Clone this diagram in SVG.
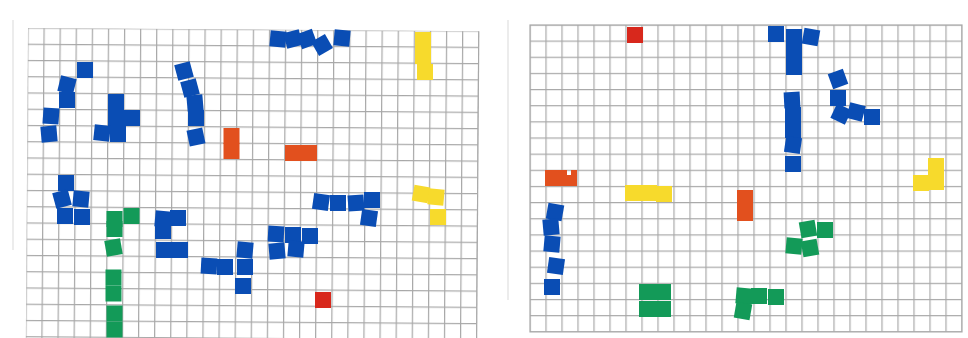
<svg xmlns="http://www.w3.org/2000/svg" xmlns:xlink="http://www.w3.org/1999/xlink" width="968" height="338" viewBox="0 0 968 338">
  <style>
    .b { fill: #0a4db4; }
    .g { fill: #139a58; }
    .y { fill: #f7da2c; }
    .o { fill: #e2501e; }
    .r { fill: #d8281c; }
    .edge { stroke: #ececec; stroke-width: 2; fill: none; }
    .frame { fill: none; stroke: #a8a8a8; stroke-width: 1.2; }
  </style>
  <defs>
    <pattern id="gl" patternUnits="userSpaceOnUse" x="27.4" y="27.4" width="16.1" height="16.25">
      <path d="M0 0.6H16.1M0.6 0V16.25" stroke="#a8a8a8" stroke-width="1.2" fill="none"/>
    </pattern>
    <pattern id="gr" patternUnits="userSpaceOnUse" x="529.4" y="24.4" width="16" height="16.15">
      <path d="M0 0.6H16M0.6 0V16.15" stroke="#a8a8a8" stroke-width="1.2" fill="none"/>
    </pattern>
    <rect id="t" x="-8" y="-8" width="16" height="16"/>
  </defs>
  <rect width="968" height="338" fill="#ffffff"/>
  <path class="edge" d="M13 20V250M508 20V300"/>

  <g id="left-grid" transform="rotate(0.4 28 28)">
    <rect x="28" y="28" width="450.8" height="310" fill="url(#gl)"/>
    <path class="frame" d="M478.8 28V338"/>
  </g>
  <g id="right-grid">
    <rect x="530" y="25" width="432" height="306.9" fill="url(#gr)"/>
    <rect class="frame" x="530" y="25" width="432" height="306.9"/>
  </g>

  <g id="left-tiles">
    <!-- blue arc top-left -->
    <use href="#t" class="b" transform="translate(85 70)"/>
    <use href="#t" class="b" transform="translate(67 85) rotate(14)"/>
    <use href="#t" class="b" transform="translate(67 100)"/>
    <use href="#t" class="b" transform="translate(51 116) rotate(4)"/>
    <use href="#t" class="b" transform="translate(49 134) rotate(-5)"/>
    <!-- blue cross -->
    <use href="#t" class="b" transform="translate(116 102)"/>
    <use href="#t" class="b" transform="translate(116 118)"/>
    <use href="#t" class="b" transform="translate(132 118)"/>
    <use href="#t" class="b" transform="translate(102 133) rotate(6)"/>
    <use href="#t" class="b" transform="translate(118 134)"/>
    <!-- blue vertical arc -->
    <use href="#t" class="b" transform="translate(184 71) rotate(-15)"/>
    <use href="#t" class="b" transform="translate(190 88) rotate(-15)"/>
    <use href="#t" class="b" transform="translate(195 103) rotate(-5)"/>
    <use href="#t" class="b" transform="translate(196 118)"/>
    <use href="#t" class="b" transform="translate(196 137) rotate(-12)"/>
    <!-- orange pair -->
    <use href="#t" class="o" transform="translate(231.5 136)"/>
    <use href="#t" class="o" transform="translate(231.5 151)"/>
    <!-- blue top row -->
    <use href="#t" class="b" transform="translate(278 39) rotate(5)"/>
    <use href="#t" class="b" transform="translate(293 39) rotate(-15)"/>
    <use href="#t" class="b" transform="translate(307 39) rotate(-20)"/>
    <use href="#t" class="b" transform="translate(322 45) rotate(-30)"/>
    <use href="#t" class="b" transform="translate(342 38) rotate(5)"/>
    <!-- yellow top -->
    <use href="#t" class="y" transform="translate(423 40)"/>
    <use href="#t" class="y" transform="translate(423 56)"/>
    <use href="#t" class="y" transform="translate(425 72)"/>
    <!-- orange mid -->
    <use href="#t" class="o" transform="translate(293 153)"/>
    <use href="#t" class="o" transform="translate(309 153)"/>
    <!-- blue lower left -->
    <use href="#t" class="b" transform="translate(66 183)"/>
    <use href="#t" class="b" transform="translate(62 199) rotate(-15)"/>
    <use href="#t" class="b" transform="translate(81 199) rotate(5)"/>
    <use href="#t" class="b" transform="translate(65 216)"/>
    <use href="#t" class="b" transform="translate(82 217)"/>
    <!-- green column -->
    <use href="#t" class="g" transform="translate(114.5 219)"/>
    <use href="#t" class="g" transform="translate(114.5 229)"/>
    <use href="#t" class="g" transform="translate(131.5 216)"/>
    <use href="#t" class="g" transform="translate(113.5 247.5) rotate(-10)"/>
    <use href="#t" class="g" transform="translate(113.5 277.5)"/>
    <use href="#t" class="g" transform="translate(113.5 293.5)"/>
    <use href="#t" class="g" transform="translate(114.5 313.5)"/>
    <use href="#t" class="g" transform="translate(114.5 329.5)"/>
    <!-- blue middle cluster -->
    <use href="#t" class="b" transform="translate(163 219) rotate(5)"/>
    <use href="#t" class="b" transform="translate(163 231)"/>
    <use href="#t" class="b" transform="translate(178 218)"/>
    <use href="#t" class="b" transform="translate(164 250)"/>
    <use href="#t" class="b" transform="translate(180 250)"/>
    <!-- blue lower cluster -->
    <use href="#t" class="b" transform="translate(209 266) rotate(3)"/>
    <use href="#t" class="b" transform="translate(225 267)"/>
    <use href="#t" class="b" transform="translate(245 250) rotate(5)"/>
    <use href="#t" class="b" transform="translate(245 267)"/>
    <use href="#t" class="b" transform="translate(243 286)"/>
    <!-- blue right-middle -->
    <use href="#t" class="b" transform="translate(321 202) rotate(8)"/>
    <use href="#t" class="b" transform="translate(338 203)"/>
    <use href="#t" class="b" transform="translate(356 203) rotate(-4)"/>
    <use href="#t" class="b" transform="translate(372 200)"/>
    <use href="#t" class="b" transform="translate(369 218) rotate(8)"/>
    <use href="#t" class="b" transform="translate(276 234) rotate(3)"/>
    <use href="#t" class="b" transform="translate(293 235)"/>
    <use href="#t" class="b" transform="translate(310 236)"/>
    <use href="#t" class="b" transform="translate(277 251) rotate(-5)"/>
    <use href="#t" class="b" transform="translate(296 249) rotate(5)"/>
    <!-- red -->
    <use href="#t" class="r" transform="translate(323 300)"/>
    <!-- yellow right -->
    <use href="#t" class="y" transform="translate(421 194) rotate(10)"/>
    <use href="#t" class="y" transform="translate(436 197) rotate(5)"/>
    <use href="#t" class="y" transform="translate(438 217)"/>
  </g>

  <g id="right-tiles">
    <use href="#t" class="r" transform="translate(635 35)"/>
    <!-- blue T -->
    <use href="#t" class="b" transform="translate(776 34)"/>
    <use href="#t" class="b" transform="translate(794 37)"/>
    <use href="#t" class="b" transform="translate(794 52)"/>
    <use href="#t" class="b" transform="translate(794 67)"/>
    <use href="#t" class="b" transform="translate(811 37) rotate(10)"/>
    <!-- blue column -->
    <use href="#t" class="b" transform="translate(792 100) rotate(-3)"/>
    <use href="#t" class="b" transform="translate(793 115)"/>
    <use href="#t" class="b" transform="translate(793 130)"/>
    <use href="#t" class="b" transform="translate(793 145) rotate(8)"/>
    <use href="#t" class="b" transform="translate(793 164)"/>
    <!-- blue cluster -->
    <use href="#t" class="b" transform="translate(838 79) rotate(-20)"/>
    <use href="#t" class="b" transform="translate(838 98)"/>
    <use href="#t" class="b" transform="translate(841 114) rotate(25)"/>
    <use href="#t" class="b" transform="translate(856 112) rotate(15)"/>
    <use href="#t" class="b" transform="translate(872 117)"/>
    <!-- yellow right -->
    <use href="#t" class="y" transform="translate(936 166)"/>
    <use href="#t" class="y" transform="translate(921 183)"/>
    <use href="#t" class="y" transform="translate(936 182)"/>
    <!-- orange right -->
    <use href="#t" class="o" transform="translate(745 198)"/>
    <use href="#t" class="o" transform="translate(745 213)"/>
    <!-- green cluster -->
    <use href="#t" class="g" transform="translate(808 229) rotate(-10)"/>
    <use href="#t" class="g" transform="translate(825 230)"/>
    <use href="#t" class="g" transform="translate(794 246) rotate(5)"/>
    <use href="#t" class="g" transform="translate(810 248) rotate(-10)"/>
    <!-- green bottom right -->
    <use href="#t" class="g" transform="translate(744 296) rotate(5)"/>
    <use href="#t" class="g" transform="translate(743 311) rotate(10)"/>
    <use href="#t" class="g" transform="translate(759 296)"/>
    <use href="#t" class="g" transform="translate(776 297)"/>
    <!-- orange left -->
    <use href="#t" class="o" transform="translate(553 178)"/>
    <path class="o" d="M561 170H567V175H571V170H577V186H561Z"/>
    <!-- yellow bar -->
    <use href="#t" class="y" transform="translate(633 193)"/>
    <use href="#t" class="y" transform="translate(649 193)"/>
    <use href="#t" class="y" transform="translate(664 194)"/>
    <!-- blue arc -->
    <use href="#t" class="b" transform="translate(555 212) rotate(10)"/>
    <use href="#t" class="b" transform="translate(551 227) rotate(-5)"/>
    <use href="#t" class="b" transform="translate(552 244) rotate(5)"/>
    <use href="#t" class="b" transform="translate(556 266) rotate(8)"/>
    <use href="#t" class="b" transform="translate(552 287)"/>
    <!-- green square block -->
    <use href="#t" class="g" transform="translate(647 292)"/>
    <use href="#t" class="g" transform="translate(663 292)"/>
    <use href="#t" class="g" transform="translate(647 309)"/>
    <use href="#t" class="g" transform="translate(663 309)"/>
  </g>
</svg>
